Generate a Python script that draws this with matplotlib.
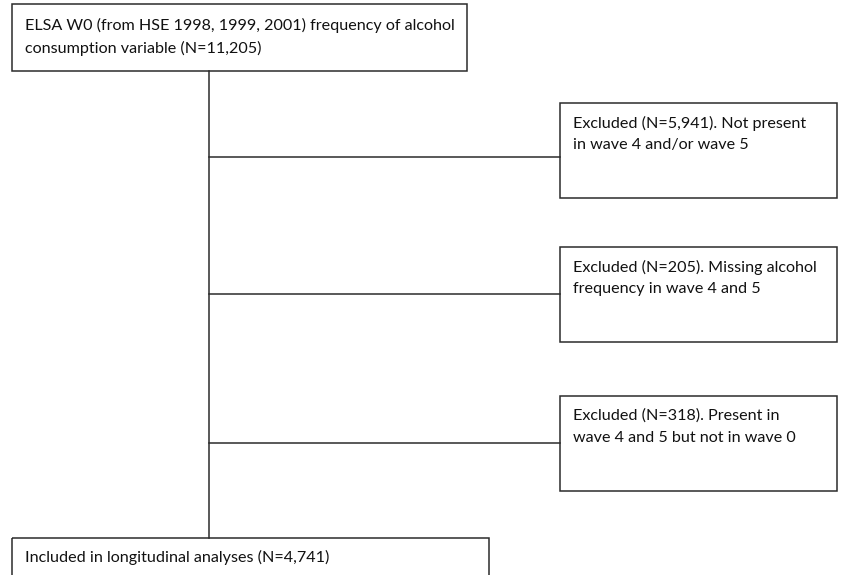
import matplotlib.pyplot as plt
from matplotlib.patches import Rectangle

# flowchart content
top_text = ['ELSA W0 (from HSE 1998, 1999, 2001) frequency of alcohol',
            'consumption variable (N=11,205)']
excluded_text = [
    ['Excluded (N=5,941). Not present', 'in wave 4 and/or wave 5'],
    ['Excluded (N=205). Missing alcohol', 'frequency in wave 4 and 5'],
    ['Excluded (N=318). Present in', 'wave 4 and 5 but not in wave 0'],
]
bottom_text = ['Included in longitudinal analyses (N=4,741)']

# layout in pixel units
excl_top = [103, 247, 396]
excl_line_y = [157, 294, 443]
excl_box_h = 95
col = '#2b2b2b'
lw = 1.1
fs = 11.6
font = 'Lato'

fig = plt.figure(figsize=(8.41, 5.75), dpi=100)
ax = fig.add_axes([0, 0, 1, 1])
ax.set_xlim(0, 841)
ax.set_ylim(575, 0)
ax.axis('off')


def box(x0, y0, x1, y1):
    ax.add_patch(Rectangle((x0, y0), x1 - x0, y1 - y0, fill=False,
                           edgecolor=col, linewidth=lw))


def lines(x, y0, texts, step=22):
    for i, t in enumerate(texts):
        ax.text(x, y0 + i * step, t, fontsize=fs, family=font,
                va='center', ha='left', color='#111111')


# top box
box(12, 4, 467, 71)
lines(25, 25, top_text, step=23)

# trunk
ax.plot([209, 209], [71, 538], color=col, lw=lw)

# exclusion boxes
for top, ly, txt in zip(excl_top, excl_line_y, excluded_text):
    ax.plot([209, 560], [ly, ly], color=col, lw=lw)
    box(560, top, 837, top + excl_box_h)
    lines(573, top + 20, txt, step=22)

# bottom box (cut off at bottom edge)
box(12, 538, 489, 600)
lines(25, 557, bottom_text)

fig.savefig('out.png', dpi=100, facecolor='white')
